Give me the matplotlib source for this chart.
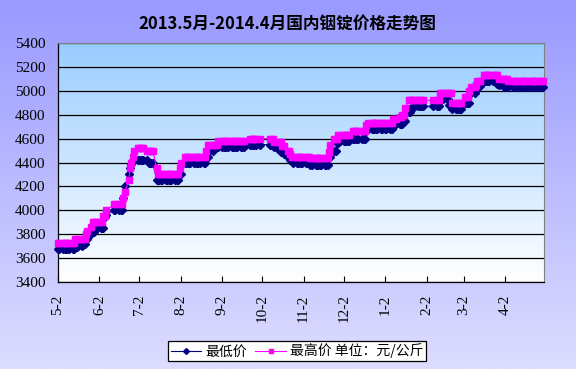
import matplotlib.pyplot as plt
import numpy as np
import pandas as pd
from matplotlib.colors import LinearSegmentedColormap
from matplotlib.lines import Line2D

plt.rcParams['font.family'] = ['Noto Sans CJK SC', 'DejaVu Sans']

# 最低价：价格变动日期及当日起的报价（元/公斤）
low_dates = ['2013-05-02', '2013-05-15', '2013-05-17', '2013-05-21', '2013-05-23',
             '2013-05-27', '2013-05-28', '2013-05-30', '2013-06-06', '2013-06-07',
             '2013-06-13', '2013-06-20', '2013-06-21', '2013-06-24', '2013-06-25',
             '2013-06-26', '2013-06-27', '2013-07-09', '2013-07-15', '2013-08-01',
             '2013-08-05', '2013-08-21', '2013-08-23', '2013-08-27', '2013-09-23',
             '2013-10-11', '2013-10-14', '2013-10-16', '2013-10-18', '2013-10-21',
             '2013-10-23', '2013-10-25', '2013-11-07', '2013-11-21', '2013-11-25',
             '2013-11-27', '2013-11-29', '2013-12-09', '2013-12-19', '2013-12-20',
             '2014-01-08', '2014-01-16', '2014-01-20', '2014-01-22', '2014-01-23',
             '2014-02-12', '2014-02-14', '2014-02-19', '2014-02-21', '2014-03-03',
             '2014-03-07', '2014-03-11', '2014-03-12', '2014-03-17', '2014-03-27',
             '2014-03-28', '2014-04-01']
low_prices = [3680, 3690, 3700, 3720, 3760,
              3800, 3820, 3850, 3940, 3960,
              4000, 4100, 4200, 4300, 4350,
              4390, 4420, 4400, 4250, 4300,
              4400, 4450, 4500, 4530, 4550,
              4530, 4510, 4490, 4470, 4450,
              4420, 4400, 4380, 4450, 4500,
              4560, 4580, 4600, 4660, 4680,
              4720, 4750, 4820, 4850, 4870,
              4920, 4930, 4880, 4850, 4900,
              4980, 5010, 5040, 5080, 5060,
              5050, 5030]

# 最高价
high_dates = ['2013-05-02', '2013-05-15', '2013-05-23', '2013-05-24', '2013-05-27',
              '2013-05-28', '2013-06-05', '2013-06-07', '2013-06-13', '2013-06-20',
              '2013-06-21', '2013-06-24', '2013-06-25', '2013-06-26', '2013-06-27',
              '2013-06-28', '2013-07-01', '2013-07-08', '2013-07-15', '2013-07-16',
              '2013-08-01', '2013-08-02', '2013-08-05', '2013-08-21', '2013-08-22',
              '2013-08-30', '2013-09-23', '2013-10-11', '2013-10-17', '2013-10-21',
              '2013-10-23', '2013-10-24', '2013-11-07', '2013-11-21', '2013-11-22',
              '2013-11-25', '2013-11-28', '2013-12-09', '2013-12-19', '2013-12-20',
              '2014-01-08', '2014-01-13', '2014-01-15', '2014-01-17', '2014-01-20',
              '2014-02-12', '2014-02-21', '2014-03-03', '2014-03-06', '2014-03-07',
              '2014-03-11', '2014-03-12', '2014-03-17', '2014-03-28', '2014-04-04']
high_prices = [3730, 3760, 3800, 3830, 3860,
               3900, 3950, 4000, 4050, 4100,
               4150, 4250, 4350, 4400, 4450,
               4500, 4520, 4500, 4350, 4300,
               4350, 4400, 4450, 4500, 4550,
               4580, 4600, 4570, 4540, 4500,
               4470, 4450, 4440, 4490, 4550,
               4600, 4630, 4660, 4710, 4730,
               4760, 4780, 4800, 4860, 4920,
               4980, 4900, 4950, 5000, 5030,
               5050, 5080, 5130, 5100, 5080]

# 休市日
holidays = ['2013-06-10', '2013-06-11', '2013-06-12', '2013-09-19', '2013-09-20',
            '2013-10-01', '2013-10-02', '2013-10-03', '2013-10-04', '2013-10-07',
            '2014-01-01', '2014-01-31', '2014-02-03', '2014-02-04', '2014-02-05',
            '2014-02-06', '2014-04-07']

tick_dates = ['2013-05-02', '2013-06-02', '2013-07-02', '2013-08-02', '2013-09-02',
              '2013-10-02', '2013-11-02', '2013-12-02', '2014-01-02', '2014-02-02',
              '2014-03-02', '2014-04-02']
tick_labels = ['5-2', '6-2', '7-2', '8-2', '9-2', '10-2', '11-2', '12-2',
               '1-2', '2-2', '3-2', '4-2']

days = pd.bdate_range('2013-05-02', '2014-04-30')
days = days[~days.isin(pd.to_datetime(holidays))]
low = pd.Series(low_prices, index=pd.to_datetime(low_dates)).reindex(days, method='ffill')
high = pd.Series(high_prices, index=pd.to_datetime(high_dates)).reindex(days, method='ffill')

fig = plt.figure(figsize=(5.76, 3.69), dpi=100)

# 背景渐变
bg = fig.add_axes([0, 0, 1, 1], zorder=-10)
bg.imshow(np.linspace(0, 1, 256).reshape(-1, 1), aspect='auto', extent=[0, 1, 0, 1],
          cmap=LinearSegmentedColormap.from_list('bg', ['#9999FF', '#DDDDFF']))
bg.set_xlim(0, 1)
bg.set_ylim(0, 1)
bg.axis('off')

rect = [58 / 576, 1 - 282 / 369, 486 / 576, 239 / 369]
pa = fig.add_axes(rect, zorder=-5)
pa.imshow(np.linspace(0, 1, 256).reshape(-1, 1), aspect='auto', extent=[0, 1, 0, 1],
          cmap=LinearSegmentedColormap.from_list('pa', ['#99CCFF', '#FFFFFF']))
pa.set_xlim(0, 1)
pa.set_ylim(0, 1)
pa.axis('off')

ax = fig.add_axes(rect)
ax.patch.set_visible(False)
ax.plot(days, low, color='#000080', lw=0.8, marker='D', ms=4.3, clip_on=False, zorder=3)
ax.plot(days, high, color='#FF00FF', lw=0.8, marker='s', ms=4.2, clip_on=False, zorder=3)

ax.set_xlim(pd.Timestamp('2013-05-02'), pd.Timestamp('2014-05-01'))
ax.set_ylim(3400, 5400)
ax.set_yticks(range(3400, 5401, 200))
ax.yaxis.grid(True, color='black', lw=0.9)
ax.set_axisbelow(True)
ax.set_xticks(pd.to_datetime(tick_dates))
ax.set_xticklabels(tick_labels, rotation=90, family='Liberation Serif', fontsize=11)
for lab in ax.get_yticklabels():
    lab.set_family('Liberation Serif')
    lab.set_fontsize(11)
ax.tick_params(axis='x', direction='in', length=4, width=0.8, pad=9)
ax.tick_params(axis='y', length=0, pad=9)
for s in ['top', 'right']:
    ax.spines[s].set_color('#808080')
for s in ['left', 'bottom']:
    ax.spines[s].set_color('black')
    ax.spines[s].set_linewidth(0.9)

fig.text(0.498, 1 - 24 / 369, '2013.5月-2014.4月国内铟锭价格走势图',
         ha='center', va='center', fontsize=12, fontweight='bold')

handles = [Line2D([], [], color='#000080', lw=0.8, marker='D', ms=3),
           Line2D([], [], color='#FF00FF', lw=0.8, marker='s', ms=3)]
leg = fig.legend(handles, ['最低价', '最高价 单位：元/公斤'], loc='center',
                 bbox_to_anchor=(297 / 576, 1 - 351 / 369), ncol=2, fontsize=10,
                 frameon=True, fancybox=False, edgecolor='black', framealpha=1,
                 borderpad=0.2, handlelength=2.2, handletextpad=0.3, columnspacing=0.6)
leg.get_frame().set_linewidth(0.9)

fig.savefig('out.png', dpi=100)
